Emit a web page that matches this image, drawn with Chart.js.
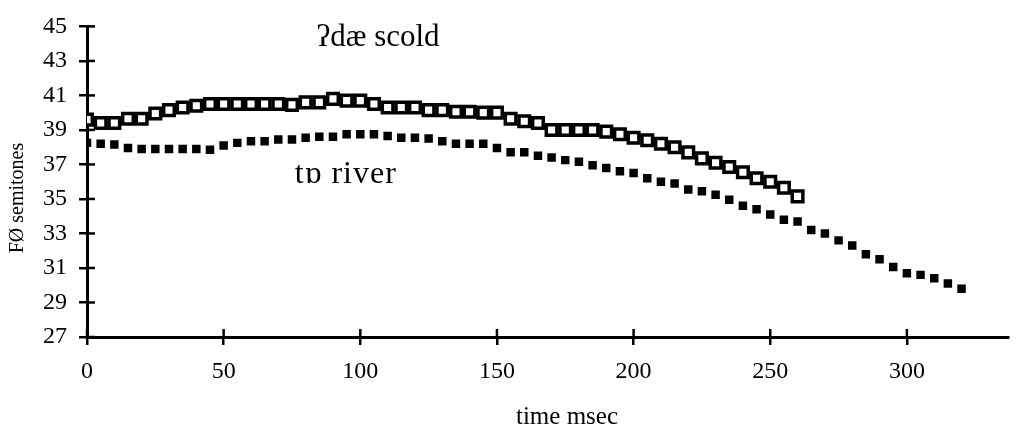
<!DOCTYPE html>
<html>
<head>
<meta charset="utf-8">
<script src="https://cdn.jsdelivr.net/npm/chart.js@4/dist/chart.umd.min.js"></script>
<style>
    html, body { margin: 0; padding: 0; background: #fff; }
    #wrap { width: 1019px; height: 433px; }
</style>
</head>
<body>
<div id="wrap"><canvas id="f0Chart"></canvas></div>
<script>
// Данные
const scoldName = 'ʔdæ scold';
const riverName = 'tɒ river';

const scoldTimes = [0, 5, 10, 15, 20, 25, 30, 35, 40, 45, 50, 55, 60, 65, 70, 75, 80, 85, 90, 95,
    100, 105, 110, 115, 120, 125, 130, 135, 140, 145, 150, 155, 160, 165, 170, 175, 180, 185, 190, 195,
    200, 205, 210, 215, 220, 225, 230, 235, 240, 245, 250, 255, 260];
const scoldF0 = [39.6, 39.4, 39.4, 39.65, 39.65, 39.95, 40.15, 40.3, 40.4, 40.5, 40.5, 40.5, 40.5, 40.5, 40.5, 40.45, 40.6, 40.6, 40.8, 40.7,
    40.7, 40.5, 40.3, 40.3, 40.3, 40.15, 40.15, 40.05, 40.05, 40.0, 40.0, 39.65, 39.5, 39.4, 39.0, 39.0, 39.0, 39.0, 38.9, 38.75,
    38.55, 38.4, 38.2, 38.0, 37.7, 37.35, 37.1, 36.85, 36.55, 36.2, 36.0, 35.65, 35.15];

const riverTimes = [0, 5, 10, 15, 20, 25, 30, 35, 40, 45, 50, 55, 60, 65, 70, 75, 80, 85, 90, 95,
    100, 105, 110, 115, 120, 125, 130, 135, 140, 145, 150, 155, 160, 165, 170, 175, 180, 185, 190, 195,
    200, 205, 210, 215, 220, 225, 230, 235, 240, 245, 250, 255, 260, 265, 270, 275, 280, 285, 290, 295,
    300, 305, 310, 315, 320];
const riverF0 = [38.25, 38.2, 38.15, 37.95, 37.9, 37.9, 37.9, 37.9, 37.9, 37.85, 38.1, 38.25, 38.35, 38.35, 38.45, 38.45, 38.55, 38.6, 38.6, 38.75,
    38.75, 38.75, 38.65, 38.55, 38.55, 38.5, 38.35, 38.2, 38.2, 38.2, 37.95, 37.7, 37.7, 37.5, 37.4, 37.25, 37.15, 36.95, 36.8, 36.6,
    36.5, 36.2, 36.0, 35.9, 35.55, 35.45, 35.25, 34.95, 34.6, 34.4, 34.1, 33.8, 33.7, 33.2, 33.0, 32.6, 32.3, 31.8, 31.5, 31.05,
    30.7, 30.6, 30.4, 30.1, 29.8];

const xTickValues = [0, 50, 100, 150, 200, 250, 300];
const yTickValues = [27, 29, 31, 33, 35, 37, 39, 41, 43, 45];

const serif = '"Liberation Serif", "DejaVu Serif", serif';

function toPoints(xs, ys) {
    return xs.map((x, i) => ({ x: x, y: ys[i] }));
}

// Крестообразные засечки, подписи серий и подписи осей
const decorPlugin = {
    id: 'decor',
    afterDraw(chart) {
        const ctx = chart.ctx;
        const xs = chart.scales.x;
        const ys = chart.scales.y;
        const area = chart.chartArea;
        ctx.save();
        ctx.strokeStyle = '#000';
        ctx.lineWidth = 2.5;
        xTickValues.forEach(v => {
            const px = xs.getPixelForValue(v);
            ctx.beginPath();
            ctx.moveTo(px, area.bottom);
            ctx.lineTo(px, area.bottom - 8);
            ctx.stroke();
        });
        yTickValues.forEach(v => {
            const py = ys.getPixelForValue(v);
            ctx.beginPath();
            ctx.moveTo(area.left, py);
            ctx.lineTo(area.left + 8, py);
            ctx.stroke();
        });

        ctx.fillStyle = '#000';
        ctx.textAlign = 'center';
        ctx.textBaseline = 'alphabetic';
        ctx.font = '31px ' + serif;
        ctx.fillText(scoldName, xs.getPixelForValue(106.5), ys.getPixelForValue(43.85));
        ctx.font = '32px ' + serif;
        ctx.letterSpacing = '1px';
        ctx.fillText(riverName, xs.getPixelForValue(94.7), ys.getPixelForValue(35.95));
        ctx.letterSpacing = '0px';

        ctx.font = '25px ' + serif;
        ctx.fillText('time msec', 567, 424);
        ctx.translate(18, 198);
        ctx.rotate(-Math.PI / 2);
        ctx.font = '20px ' + serif;
        ctx.textBaseline = 'middle';
        ctx.fillText('FØ semitones', 0, 0);
        ctx.restore();
    }
};

new Chart(document.getElementById('f0Chart'), {
    type: 'scatter',
    data: {
        datasets: [
            {
                label: scoldName,
                data: toPoints(scoldTimes, scoldF0),
                pointStyle: 'rect',
                pointRadius: 7.5,
                pointBorderWidth: 3.5,
                pointBorderColor: '#000',
                pointBackgroundColor: '#fff',
                showLine: false,
                order: 1
            },
            {
                label: riverName,
                data: toPoints(riverTimes, riverF0),
                pointStyle: 'rect',
                pointRadius: 6,
                pointBorderWidth: 0,
                pointBackgroundColor: '#000',
                showLine: false,
                order: 2
            }
        ]
    },
    options: {
        responsive: true,
        maintainAspectRatio: false,
        animation: false,
        layout: { padding: { top: 17, right: 2, left: 0, bottom: 0 } },
        plugins: {
            legend: { display: false },
            tooltip: { enabled: false }
        },
        scales: {
            x: {
                type: 'linear',
                min: 0,
                max: 337,
                afterBuildTicks(scale) {
                    scale.ticks = xTickValues.map(v => ({ value: v }));
                },
                afterFit(scale) { scale.height = 96; },
                ticks: {
                    color: '#000',
                    font: { family: serif, size: 24 },
                    padding: 12,
                    maxRotation: 0
                },
                grid: { drawOnChartArea: false, drawTicks: true, tickLength: 8, lineWidth: 2.5, color: '#000' },
                border: { display: true, width: 3, color: '#000' }
            },
            y: {
                min: 27,
                max: 45,
                afterBuildTicks(scale) {
                    scale.ticks = yTickValues.map(v => ({ value: v }));
                },
                afterFit(scale) { scale.width = 87; },
                ticks: {
                    color: '#000',
                    font: { family: serif, size: 24 },
                    padding: 12
                },
                grid: { drawOnChartArea: false, drawTicks: true, tickLength: 8, lineWidth: 2.5, color: '#000' },
                border: { display: true, width: 3, color: '#000' }
            }
        }
    },
    plugins: [decorPlugin]
});
</script>
</body>
</html>
